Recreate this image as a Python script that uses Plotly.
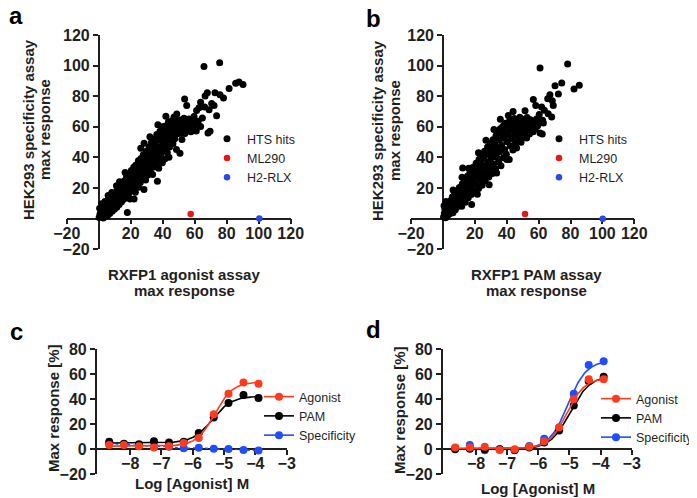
import numpy as np
import plotly.graph_objects as go

# the page body keeps its default 8px margin; positions below are page pixels
OFF = 8
W, H = 697 - OFF, 498 - OFF
FONT = "Liberation Sans, Arial, Helvetica, sans-serif"
INK = "#1f1f1f"
RED_DOT = "#e8161b"
BLUE_DOT = "#2a48e6"
RED = "#ff3b1d"
BLUE = "#1f4dff"

# ---- panels a/b: HTS hits, (RXFP1 assay max response, HEK293 specificity max response)
hits_a = [
    (0.3, 0.8), (0.8, 2.9), (1.2, 5.6), (1.6, 1.2), (2.1, 3.8), (2.4, 7.9), (2.9, 0.4), (3.3, 5.1),
    (3.6, 9.6), (4.1, 2.6), (4.4, 6.9), (4.9, 4.2), (0.6, 6.8), (1.9, 9.8), (3.9, 11.3),
    (5.2, 8.8), (5.5, 1.9), (5.8, 12.4), (6.1, 5.3), (6.6, 9.9), (6.9, 3.4), (7.3, 13.6), (7.6, 7.2),
    (8.0, 11.0), (8.4, 4.9), (8.8, 14.8), (9.1, 8.6), (9.5, 12.3), (9.8, 6.1), (5.9, 15.2), (8.2, 17.1),
    (10.2, 16.4), (10.5, 9.7), (10.9, 13.1), (11.3, 7.4), (11.6, 18.9), (12.0, 11.8), (12.4, 15.3),
    (12.8, 9.2), (13.2, 20.6), (13.5, 13.9), (13.9, 17.6), (14.3, 11.0), (14.7, 22.2), (14.9, 15.8),
    (11.1, 21.5), (13.0, 24.1),
    (15.3, 19.4), (15.6, 12.7), (16.0, 24.6), (16.3, 16.5), (16.7, 21.3), (17.1, 14.2), (17.4, 27.3),
    (17.9, 18.8), (18.2, 23.7), (18.6, 15.6), (19.0, 29.1), (19.3, 21.2), (19.7, 25.8), (17.9, 4.1),
    (16.5, 30.2), (19.6, 12.9),
    (20.1, 18.3), (20.4, 31.4), (20.8, 22.9), (21.2, 27.1), (21.5, 19.6), (21.9, 33.6), (22.3, 25.0),
    (22.6, 29.6), (22.9, 17.2), (23.3, 35.0), (23.1, 34.6), (23.7, 22.8), (24.0, 31.2), (24.4, 26.4),
    (24.8, 37.8), (24.9, 20.6), (22.1, 12.9),
    (25.2, 29.0), (25.6, 34.3), (26.0, 23.7), (26.4, 39.4), (26.7, 31.7), (27.1, 27.0), (27.5, 36.5),
    (27.9, 41.8), (28.3, 19.0), (28.6, 30.1), (28.9, 34.9), (29.3, 25.3), (29.7, 39.7), (29.9, 44.1),
    (26.3, 46.0), (28.4, 49.2),
    (30.4, 44.0), (30.3, 33.0), (30.7, 28.6), (31.1, 37.8), (31.5, 46.8), (31.8, 42.0), (32.2, 31.5),
    (32.6, 35.9), (33.0, 49.9), (33.3, 40.2), (33.7, 28.9), (34.1, 44.6), (34.5, 33.8), (34.9, 52.1),
    (34.8, 38.3), (32.0, 53.6),
    (35.2, 47.9), (35.6, 41.3), (36.0, 36.0), (36.3, 55.0), (36.7, 24.4), (36.8, 44.5), (37.2, 51.2),
    (37.5, 32.9), (37.9, 39.6), (38.3, 57.2), (38.6, 47.1), (39.0, 42.9), (39.4, 53.5), (39.8, 36.6),
    (39.9, 60.1), (37.0, 61.3),
    (40.3, 50.4), (40.6, 45.6), (41.0, 56.8), (41.4, 39.1), (41.7, 60.6), (42.1, 48.3), (42.5, 53.7),
    (42.9, 43.2), (43.2, 58.9), (43.6, 63.4), (44.0, 51.6), (44.3, 46.9), (44.7, 56.1), (44.9, 61.8),
    (42.0, 67.0), (43.9, 40.2),
    (45.3, 54.1), (45.7, 59.7), (46.0, 64.2), (46.4, 49.0), (46.8, 57.4), (47.1, 62.0), (47.5, 52.3),
    (47.9, 65.8), (48.3, 59.0), (48.6, 45.2), (49.0, 55.5), (49.4, 62.9), (49.8, 58.3), (47.1, 66.5),
    (48.8, 68.4),
    (50.2, 61.6), (50.5, 55.8), (50.8, 42.7), (51.2, 64.5), (51.6, 58.6), (52.0, 51.8), (52.4, 62.7),
    (52.8, 59.4), (53.3, 65.6), (53.7, 78.2), (53.9, 55.6), (54.3, 61.0), (54.7, 63.9),
    (55.0, 73.9), (55.4, 58.8), (55.9, 62.4), (56.4, 65.1), (57.0, 60.2), (57.6, 56.8), (58.1, 63.1),
    (58.5, 64.7), (59.0, 59.6), (59.6, 66.7), (60.3, 61.4), (61.2, 70.6), (61.0, 57.3), (62.2, 63.7),
    (62.7, 72.4),
    (63.7, 76.0), (63.7, 60.3), (64.8, 65.8), (65.8, 99.5), (66.5, 80.2), (67.9, 82.2), (69.0, 71.2),
    (69.6, 57.1), (70.6, 75.2), (72.1, 73.9), (72.7, 82.2), (73.7, 67.3), (75.6, 101.8), (75.8, 81.0),
    (78.0, 78.9), (81.5, 85.0), (85.6, 88.5), (87.7, 89.3), (90.2, 87.6), (66.2, 73.0), (68.3, 56.0),
]

hits_b = [
    (0.4, 1.1), (0.9, 3.6), (1.3, 6.2), (1.7, 0.6), (2.2, 4.5), (2.6, 8.7), (3.0, 2.1), (3.4, 6.0),
    (3.8, 10.4), (4.2, 3.3), (4.6, 7.6), (4.9, 11.9), (0.7, 8.4), (2.0, 11.2),
    (5.3, 5.2), (5.6, 9.4), (5.9, 14.1), (6.3, 3.8), (6.7, 7.3), (7.0, 11.6), (7.4, 16.2), (7.8, 5.9),
    (8.1, 9.8), (8.5, 13.7), (8.9, 18.3), (9.2, 7.9), (9.6, 12.0), (9.9, 16.5), (6.4, 18.8),
    (10.3, 20.3), (10.6, 10.1), (11.0, 14.4), (11.4, 18.6), (11.8, 8.2), (12.2, 22.9), (12.4, 33.1),
    (12.5, 12.6), (12.9, 16.9), (13.3, 21.1), (13.7, 25.2), (14.0, 10.7), (14.4, 15.0), (14.8, 19.4),
    (12.0, 27.0),
    (15.1, 23.8), (15.5, 27.9), (15.9, 13.6), (16.3, 18.2), (16.6, 22.4), (17.0, 30.3), (17.4, 26.6),
    (17.8, 15.8), (18.0, 9.2), (18.2, 20.9), (18.6, 33.5), (18.9, 24.9), (19.3, 29.1), (19.7, 18.1),
    (16.2, 33.0),
    (20.1, 31.8), (20.5, 22.6), (20.8, 36.2), (21.2, 27.0), (21.6, 15.9), (22.0, 34.0), (22.4, 19.8),
    (22.7, 38.9), (23.1, 30.2), (23.5, 25.1), (23.9, 36.6), (24.2, 41.5), (24.6, 21.9), (24.9, 32.8),
    (22.3, 43.0),
    (25.3, 28.4), (25.7, 39.3), (26.1, 44.0), (26.5, 24.7), (26.8, 34.6), (27.2, 41.9), (27.6, 30.2),
    (28.0, 46.8), (28.4, 37.1), (28.8, 27.2), (29.1, 43.7), (29.5, 33.5), (29.9, 49.1), (27.0, 51.3),
    (29.0, 22.2),
    (30.3, 39.8), (30.7, 46.2), (31.0, 29.5), (31.4, 51.6), (31.8, 35.7), (32.2, 43.0), (32.6, 48.9),
    (33.0, 32.4), (33.3, 54.1), (33.7, 29.8), (33.7, 40.1), (34.1, 46.4), (34.5, 56.3), (34.9, 37.0),
    (32.0, 58.2),
    (35.3, 51.5), (35.6, 43.8), (36.0, 58.7), (36.4, 34.6), (36.8, 48.0), (37.2, 55.1), (37.5, 60.3),
    (37.9, 39.8), (37.9, 60.3), (38.3, 52.6), (38.7, 45.2), (39.0, 62.4), (39.4, 57.0), (39.8, 42.1),
    (36.0, 65.0),
    (40.0, 38.6), (40.3, 50.3), (40.7, 60.8), (41.1, 55.0), (41.6, 38.6), (41.9, 64.2), (42.3, 47.6),
    (42.7, 57.9), (43.1, 52.4), (43.5, 62.1), (43.9, 44.9), (44.3, 59.3), (44.7, 65.4), (45.1, 54.7),
    (45.5, 49.3), (45.9, 61.6), (46.2, 46.2), (46.6, 57.4), (47.0, 63.9), (47.4, 52.1), (47.8, 60.0),
    (48.2, 66.3), (48.6, 55.8), (49.0, 50.0), (49.4, 62.8), (49.8, 58.6), (41.0, 67.4), (44.0, 70.0),
    (50.2, 64.9), (50.6, 53.6), (51.0, 60.5), (51.5, 70.5), (51.9, 56.9), (52.3, 63.3), (52.5, 52.7),
    (52.8, 66.1), (53.3, 58.8), (53.8, 62.0), (54.3, 55.4), (54.8, 64.6), (55.4, 59.5), (56.0, 61.8),
    (56.7, 77.8), (56.6, 56.8), (57.3, 63.7), (58.0, 58.9), (58.2, 73.9), (58.7, 65.2), (59.4, 60.7),
    (60.4, 68.0), (60.9, 56.0), (61.1, 62.6),
    (60.9, 98.5), (61.9, 73.0), (62.3, 55.4), (62.5, 64.3), (63.6, 70.8), (63.0, 62.5), (65.7, 78.4),
    (67.1, 81.0), (68.2, 66.5), (68.6, 77.1), (69.2, 73.9), (70.3, 86.9), (72.4, 81.5), (74.5, 88.7),
    (78.2, 101.1), (82.2, 84.8), (85.5, 87.1), (66.0, 68.5),
]

ml290_a = (57.5, 3.0)
h2rlx_a = (100.4, 0.2)
ml290_b = (51.5, 3.0)
h2rlx_b = (100.2, 0.0)
scatter_ticks = [-20, 20, 40, 60, 80, 100, 120]

# ---- panels c/d: concentration response
log_dose = [-8.67, -8.2, -7.72, -7.24, -6.76, -6.29, -5.81, -5.33, -4.86, -4.38, -3.9]
c_agonist = [3.5, 3.5, 2.5, 1.5, 2.5, 5.0, 9.0, 28.0, 44.5, 53.5, 52.5]
c_pam = [6.0, 4.5, 4.0, 6.5, 5.5, 6.0, 13.0, 25.5, 37.0, 43.5, 41.0]
c_spec = [4.5, 4.0, 3.0, 2.5, 2.0, 0.8, 1.2, 0.4, 0.2, -0.5, -1.0]
d_agonist = [1.5, 1.5, 2.0, -0.5, 0.0, 2.0, 6.5, 17.5, 40.0, 56.0, 56.0]
d_pam = [0.0, 0.5, 0.0, 0.0, -0.5, 1.5, 5.5, 15.0, 35.0, 54.5, 58.0]
d_spec = [1.0, 3.5, -0.8, 0.0, -0.8, 2.7, 8.5, 17.5, 44.5, 67.5, 70.5]

# 4PL fit parameters: bottom, top, logEC50, hill
fit_c_agonist = (2.5, 54.0, -5.30, 1.5)
fit_c_pam = (5.0, 42.5, -5.38, 1.4)
fit_d_agonist = (0.5, 57.0, -5.09, 1.5)
fit_d_pam = (0.0, 59.0, -4.98, 1.35)
fit_d_spec = (0.5, 71.0, -5.05, 1.45)
dose_ticks = [-8, -7, -6, -5, -4, -3]
resp_ticks = [-20, 0, 20, 40, 60, 80]


def fx(p):
    return (p - OFF) / W


def fy(p):
    return 1 - (p - OFF) / H


def hill(x, params):
    bottom, top, ec50, n = params
    x = np.asarray(x)
    return bottom + (top - bottom) / (1 + 10 ** ((ec50 - x) * n))


tickfont = dict(family=FONT, size=16, color=INK, weight="bold")
axis_common = dict(showline=True, linecolor=INK, linewidth=1.5, ticks="outside", ticklen=5,
                   tickwidth=1.5, tickcolor=INK, tickfont=tickfont, showgrid=False,
                   zeroline=False, layer="below traces", fixedrange=True, automargin=False)

fig = go.Figure()

# scatter panels
for k, (hits, ml, rlx, lg) in enumerate([(hits_a, ml290_a, h2rlx_a, "legend"),
                                         (hits_b, ml290_b, h2rlx_b, "legend2")]):
    xa, ya = ("x", "y") if k == 0 else ("x2", "y2")
    fig.add_trace(go.Scatter(x=[p[0] for p in hits], y=[p[1] for p in hits], mode="markers",
                             marker=dict(color="black", size=7), name="HTS hits",
                             xaxis=xa, yaxis=ya, legend=lg))
    fig.add_trace(go.Scatter(x=[ml[0]], y=[ml[1]], mode="markers", marker=dict(color=RED_DOT, size=6.5),
                             name="ML290", xaxis=xa, yaxis=ya, legend=lg))
    fig.add_trace(go.Scatter(x=[rlx[0]], y=[rlx[1]], mode="markers", marker=dict(color=BLUE_DOT, size=6.5),
                             name="H2-RLX", xaxis=xa, yaxis=ya, legend=lg))

# dose-response panels
fit_x = np.linspace(log_dose[0], log_dose[-1], 200)
panels = [
    ("x3", "y3", "legend3", [("Specificity", BLUE, c_spec, None),
                              ("PAM", "black", c_pam, fit_c_pam),
                              ("Agonist", RED, c_agonist, fit_c_agonist)]),
    ("x4", "y4", "legend4", [("Specificity", BLUE, d_spec, fit_d_spec),
                              ("PAM", "black", d_pam, fit_d_pam),
                              ("Agonist", RED, d_agonist, fit_d_agonist)]),
]
rank = {"Agonist": 1, "PAM": 2, "Specificity": 3}
for xa, ya, lg, series in panels:
    for name, col, vals, fit in series:
        if fit is not None:
            fig.add_trace(go.Scatter(x=fit_x, y=hill(fit_x, fit), mode="lines",
                                     line=dict(color=col, width=1.6), showlegend=False,
                                     xaxis=xa, yaxis=ya, hoverinfo="skip"))
            fig.add_trace(go.Scatter(x=log_dose, y=vals, mode="markers",
                                     marker=dict(color=col, size=8), showlegend=False,
                                     xaxis=xa, yaxis=ya))
        else:
            fig.add_trace(go.Scatter(x=log_dose, y=vals, mode="lines+markers",
                                     line=dict(color=col, width=1.4, dash="dot", shape="spline"),
                                     marker=dict(color=col, size=8), showlegend=False,
                                     xaxis=xa, yaxis=ya))
        # legend proxy
        fig.add_trace(go.Scatter(x=[None], y=[None], mode="lines+markers", name=name,
                                 line=dict(color=col, width=1.6), marker=dict(color=col, size=8),
                                 xaxis=xa, yaxis=ya, legend=lg, legendrank=rank[name]))

# axis geometry (page pixels)
sc_ydom = [fy(249.3), fy(35.0)]
sc_y0 = sc_ydom[0] + (20 / 140) * (sc_ydom[1] - sc_ydom[0])
a_xdom = [fx(66.7), fx(290.7)]
b_xdom = [fx(411.0), fx(634.3)]
dr_ydom = [fy(474.3), fy(349.3)]
dr_y0 = dr_ydom[0] + (20 / 100) * (dr_ydom[1] - dr_ydom[0])
c_xdom = [fx(96.7), fx(286.7)]
d_xdom = [fx(442.7), fx(631.7)]


def x0_pos(dom):
    return dom[0] + (20 / 140) * (dom[1] - dom[0])


fig.update_layout(
    xaxis=dict(domain=a_xdom, range=[-20, 120], anchor="free", position=sc_y0,
               tickvals=scatter_ticks, **axis_common),
    yaxis=dict(domain=sc_ydom, range=[-20, 120], anchor="free", position=x0_pos(a_xdom),
               tickvals=scatter_ticks, **axis_common),
    xaxis2=dict(domain=b_xdom, range=[-20, 120], anchor="free", position=sc_y0,
                tickvals=scatter_ticks, **axis_common),
    yaxis2=dict(domain=sc_ydom, range=[-20, 120], anchor="free", position=x0_pos(b_xdom),
                tickvals=scatter_ticks, **axis_common),
    xaxis3=dict(domain=c_xdom, range=[-9.07, -3], anchor="free", position=dr_y0,
                tickvals=dose_ticks, **axis_common),
    yaxis3=dict(domain=dr_ydom, range=[-20, 80], anchor="x3", tickvals=resp_ticks, **axis_common),
    xaxis4=dict(domain=d_xdom, range=[-9.07, -3], anchor="free", position=dr_y0,
                tickvals=dose_ticks, **axis_common),
    yaxis4=dict(domain=dr_ydom, range=[-20, 80], anchor="x4", tickvals=resp_ticks, **axis_common),
)
# pull the x tick labels closer to their axis line, as in the original
try:
    fig.update_xaxes(ticklabelstandoff=-5)
except ValueError:
    pass

leg_common = dict(xanchor="left", yanchor="top", bgcolor="rgba(0,0,0,0)", itemwidth=30,
                  font=dict(family=FONT, size=12.5, color=INK), tracegroupgap=0)
fig.update_layout(
    legend=dict(x=fx(207), y=fy(124), **leg_common),
    legend2=dict(x=fx(539), y=fy(124), **leg_common),
    legend3=dict(x=fx(259), y=fy(382), **leg_common),
    legend4=dict(x=fx(596), y=fy(384), **leg_common),
)

# titles and panel letters
title_font = dict(family=FONT, size=15, color=INK, weight="bold")
letter_font = dict(family=FONT, size=24, color="black", weight="bold")
ann = [
    ("a", 16, 16, 0, letter_font), ("b", 373, 18, 0, letter_font),
    ("c", 16, 331, 0, letter_font), ("d", 373, 329, 0, letter_font),
    ("HEK293 specificity assay", 28, 130, -90, title_font), ("max response", 44, 130, -90, title_font),
    ("HEK293 specificity assay", 377, 131, -90, title_font), ("max response", 394, 131, -90, title_font),
    ("RXFP1 agonist assay", 184, 274, 0, title_font), ("max response", 184, 290, 0, title_font),
    ("RXFP1 PAM assay", 536, 274, 0, title_font), ("max response", 536, 290, 0, title_font),
    ("Max response [%]", 53, 408, -90, title_font), ("Max response [%]", 399, 410, -90, title_font),
    ("Log [Agonist] M", 192, 483, 0, title_font), ("Log [Agonist] M", 538, 488, 0, title_font),
]
for text, px, py, ang, f in ann:
    fig.add_annotation(text=text, x=fx(px), y=fy(py), xref="paper", yref="paper", showarrow=False,
                       xanchor="center", yanchor="middle", textangle=ang, font=f)

fig.update_layout(width=W, height=H, margin=dict(l=0, r=0, t=0, b=0, autoexpand=False),
                  paper_bgcolor="white", plot_bgcolor="white", hovermode=False)

fig.write_html("out.html")
